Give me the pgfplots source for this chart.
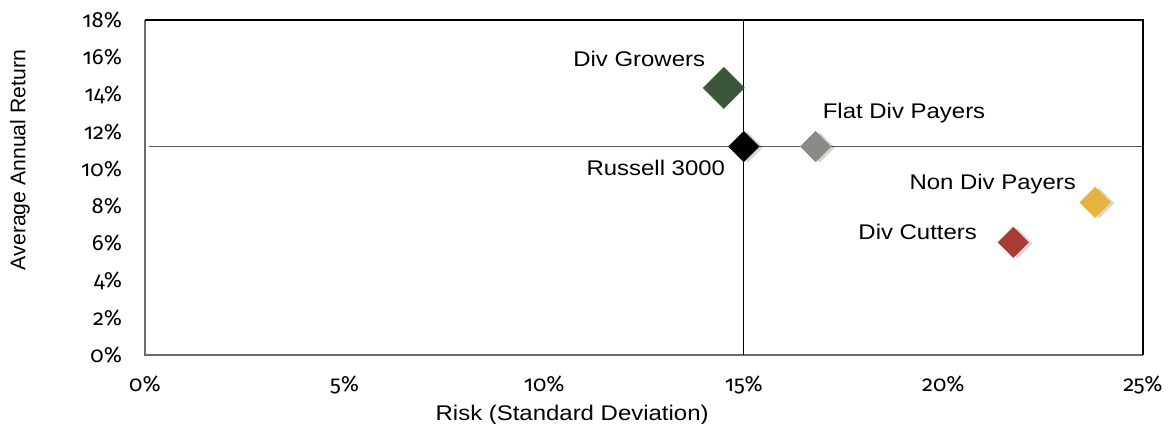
\documentclass[border=0pt]{standalone}
\usepackage{fontspec}
\setmainfont{Liberation Sans}
\newfontfamily\tickfont[Numbers=OldStyle]{Fira Sans}
\newfontfamily\widefont[FakeStretch=1.13]{Liberation Sans}
\usepackage{pgfplots}
\pgfplotsset{compat=1.18}
\usetikzlibrary{calc}

\definecolor{growgreen}{HTML}{3B5638}
\definecolor{flatgrey}{HTML}{8A8B84}
\definecolor{nongold}{HTML}{E6B33F}
\definecolor{cutred}{HTML}{A83C35}

\begin{document}
\begin{tikzpicture}
\begin{axis}[
  name=ax,
  scale only axis,
  width=499bp, height=167.5bp,
  xmin=0, xmax=25, ymin=0, ymax=18,
  xtick={0,5,...,25}, ytick={0,2,...,18},
  xticklabel={\pgfmathprintnumber{\tick}\%},
  yticklabel={\pgfmathprintnumber{\tick}\%},
  /pgf/number format/assume math mode=true,
  major tick length=0pt,
  axis line style={draw=none},
  tick label style={font=\fontsize{11bp}{13bp}\selectfont\tickfont},
  yticklabel style={xshift=-8bp},
  xticklabel style={yshift=-7bp},
  xlabel={Risk (Standard Deviation)},
  xlabel style={font=\fontsize{10.6bp}{13bp}\selectfont\widefont,
    at={($(rel axis cs:0.428,0)+(0,-30bp)$)}, anchor=center},
  ylabel={Average Annual Return},
  ylabel style={font=\fontsize{10.6bp}{13bp}\selectfont,
    at={($(rel axis cs:0,0.582)+(-62.5bp,0)$)}, anchor=center, rotate=0},
  clip=false,
]
% frame
\draw[gray!85!black, line width=1.2bp] (rel axis cs:0,1) -- (rel axis cs:0,0) -- (rel axis cs:1,0);
\draw[black, line width=0.8bp] (rel axis cs:0,1) -- (rel axis cs:1,1) -- (rel axis cs:1,0);
% crosshair at Russell 3000
\addplot[draw=black!65, line width=0.8bp] coordinates {(0.1,11.2) (25,11.2)};
\addplot[draw=black, line width=0.6bp] coordinates {(15,0) (15,18)};

% shadows
\addplot[only marks, mark=square*, mark size=5.3bp,
  mark options={rotate=45, xshift=1.2bp, yshift=-1.8bp, fill=black, draw=black, draw opacity=0, fill opacity=0.16}]
  coordinates {(15.0,11.2) (16.8,11.2) (23.8,8.2) (21.75,6.05)};

\addplot[only marks, mark=square*, mark size=7.2bp,
  mark options={rotate=45, fill=growgreen, draw=growgreen}] coordinates {(14.5,14.35)};
\addplot[only marks, mark=square*, mark size=5.3bp,
  mark options={rotate=45, fill=black, draw=black}] coordinates {(15.0,11.2)};
\addplot[only marks, mark=square*, mark size=5.3bp,
  mark options={rotate=45, fill=flatgrey, draw=flatgrey}] coordinates {(16.8,11.2)};
\addplot[only marks, mark=square*, mark size=5.3bp,
  mark options={rotate=45, fill=nongold, draw=nongold}] coordinates {(23.8,8.2)};
\addplot[only marks, mark=square*, mark size=5.3bp,
  mark options={rotate=45, fill=cutred, draw=cutred}] coordinates {(21.75,6.05)};

\begin{scope}[every node/.style={font=\fontsize{10.6bp}{13bp}\selectfont\widefont, inner sep=0pt}]
\node[anchor=east] at (axis cs:14.04,15.9) {Div Growers};
\node[anchor=west] at (axis cs:16.97,13.0) {Flat Div Payers};
\node[anchor=east] at (axis cs:14.54,10.05) {Russell 3000};
\node[anchor=east] at (axis cs:23.33,9.19) {Non Div Payers};
\node[anchor=east] at (axis cs:20.85,6.61) {Div Cutters};
\end{scope}

\coordinate (bl) at (rel axis cs:0,0);
\coordinate (tr) at (rel axis cs:1,1);
\end{axis}
\pgfresetboundingbox
\path[use as bounding box] ($(bl)+(-72.5bp,-34.5bp)$) rectangle ($(tr)+(15.5bp,10bp)$);
\end{tikzpicture}
\end{document}
